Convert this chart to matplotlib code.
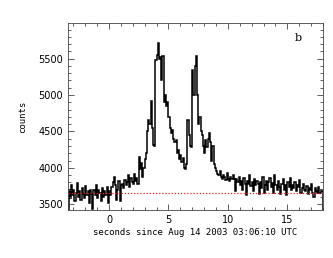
import numpy as np
import matplotlib.pyplot as plt
from matplotlib.ticker import MultipleLocator

# light curve, 0.1 s bins starting at -3.4 s
bin_start = -3.4
bin_width = 0.1
counts = [
    # -3.4 .. 0.0
    3700, 3580, 3760, 3620, 3690, 3540, 3650, 3790, 3600, 3680,
    3560, 3720, 3640, 3590, 3750, 3620, 3680, 3510, 3700, 3640,
    3440, 3690, 3620, 3760, 3580, 3700, 3650, 3540, 3720, 3600,
    3680, 3620, 3740, 3520,
    # 0.0 .. 1.0
    3680, 3620, 3740, 3800, 3880, 3760, 3560, 3700, 3820, 3550,
    # 1.0 .. 2.5
    3760, 3780, 3720, 3830, 3760, 3800, 3900, 3740, 3860, 3800,
    3780, 3920, 3820, 3860, 3780,
    # 2.5 .. 3.0
    4150, 3980, 4060, 3880, 4000,
    # 3.0 .. 4.0
    4120, 4200, 4500, 4650, 4600, 4920, 4550, 4320, 4300, 5480,
    # 4.0 .. 5.0
    5550, 5720, 5500, 5520, 5200, 5530, 4900, 5000, 4850, 4900,
    # 5.0 .. 6.5
    4700, 4550, 4480, 4520, 4400, 4350, 4380, 4200, 4250, 4120,
    4180, 4080, 4130, 4000, 3980,
    # 6.5 .. 7.0
    4050, 4650, 4450, 4300, 4280,
    # 7.0 .. 8.0
    5350, 5000, 5400, 5540, 5000, 4600, 4700, 4500, 4450, 4300,
    # 8.0 .. 9.0
    4200, 4380, 4280, 4400, 4480, 4350, 4100, 4300, 4050, 4000,
    # 9.0 .. 10.5
    3950, 3920, 3900, 3960, 3880, 3850, 3900, 3870, 3830, 3930,
    3850, 3820, 3880, 3840, 3900,
    # 10.5 .. 18.0
    3840, 3680, 3850, 3800, 3880, 3760, 3820, 3700, 3860, 3780,
    3620, 3820, 3780, 3900, 3750, 3800, 3680, 3850, 3760, 3820,
    3780, 3640, 3800, 3720, 3880, 3650, 3760, 3820, 3690, 3800,
    3860, 3740, 3790, 3650, 3900, 3760, 3700, 3820, 3730, 3640,
    3780, 3850, 3700, 3760, 3620, 3800, 3740, 3860, 3690, 3770,
    3720, 3800, 3680, 3760, 3740, 3830, 3660, 3720, 3780, 3700,
    3680, 3750, 3640, 3720, 3700, 3780, 3660, 3600, 3720, 3680,
    3650, 3740, 3660, 3700, 3680,
]
background = 3650

counts = np.array(counts)
edges = bin_start + bin_width * np.arange(len(counts) + 1)

fig = plt.figure(figsize=(3.33, 2.58), dpi=100)
ax = fig.add_axes([0.204, 0.186, 0.766, 0.725])

ax.stairs(counts, edges, color='black', lw=1.1)
ax.axhline(background, color='#ff2020', ls=(0, (1, 1.5)), lw=0.9, zorder=3)

ax.set_xlim(-3.45, 18.0)
ax.set_ylim(3420, 5990)
ax.xaxis.set_major_locator(MultipleLocator(5))
ax.xaxis.set_minor_locator(MultipleLocator(1))
ax.yaxis.set_major_locator(MultipleLocator(500))
ax.yaxis.set_minor_locator(MultipleLocator(100))
ax.tick_params(which='both', direction='in', top=True, right=True,
               labelsize=7, width=0.6, color='#444444')
ax.tick_params(which='major', length=4)
ax.tick_params(which='minor', length=2)
for s in ax.spines.values():
    s.set_linewidth(0.6)
    s.set_color('#444444')

ax.set_xlabel('seconds since Aug 14 2003 03:06:10 UTC',
              family='DejaVu Sans Mono', fontsize=6.5, labelpad=2)
ax.set_ylabel('counts', family='DejaVu Sans Mono', fontsize=6.5, labelpad=8)
ax.text(15.6, 5740, 'b', family='DejaVu Serif', fontsize=8)

fig.savefig('out.png', dpi=100)
